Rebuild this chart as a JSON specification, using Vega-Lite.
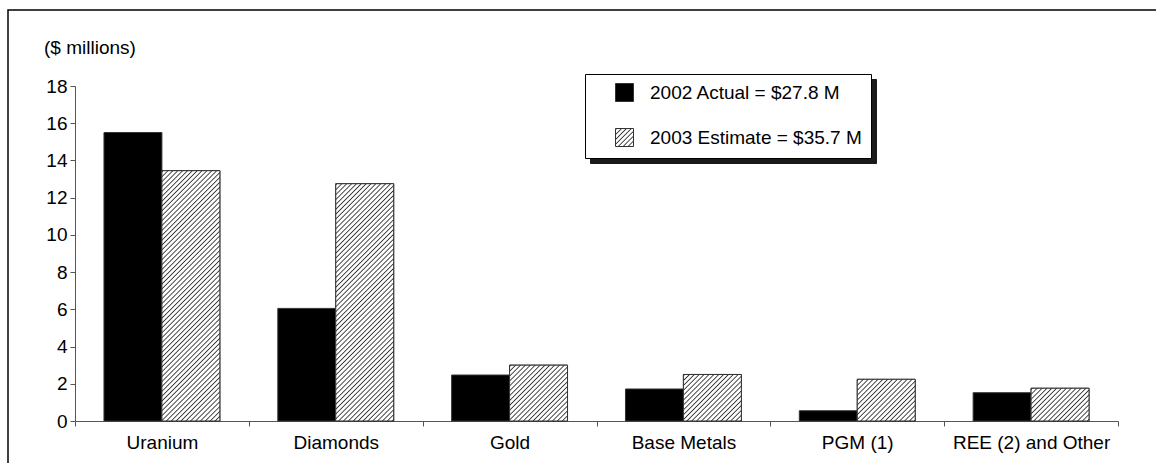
{
  "$schema": "https://vega.github.io/schema/vega-lite/v6.json",
  "width": 1148,
  "height": 453,
  "autosize": {"type": "none"},
  "padding": {"left": 8, "top": 10, "right": 0, "bottom": 0},
  "background": "white",
  "params": [
    {"name": "hatch", "value": [
      {"offset":0,"color":"#fff"},{"offset":0.004,"color":"#333"},{"offset":0.008,"color":"#fff"},
      {"offset":0.0156,"color":"#fff"},{"offset":0.0196,"color":"#333"},{"offset":0.0236,"color":"#fff"},
      {"offset":0.0313,"color":"#fff"},{"offset":0.0353,"color":"#333"},{"offset":0.0393,"color":"#fff"},
      {"offset":0.0469,"color":"#fff"},{"offset":0.0509,"color":"#333"},{"offset":0.0549,"color":"#fff"},
      {"offset":0.0625,"color":"#fff"},{"offset":0.0665,"color":"#333"},{"offset":0.0705,"color":"#fff"},
      {"offset":0.0781,"color":"#fff"},{"offset":0.0821,"color":"#333"},{"offset":0.0861,"color":"#fff"},
      {"offset":0.0938,"color":"#fff"},{"offset":0.0978,"color":"#333"},{"offset":0.1018,"color":"#fff"},
      {"offset":0.1094,"color":"#fff"},{"offset":0.1134,"color":"#333"},{"offset":0.1174,"color":"#fff"},
      {"offset":0.125,"color":"#fff"},{"offset":0.129,"color":"#333"},{"offset":0.133,"color":"#fff"},
      {"offset":0.1406,"color":"#fff"},{"offset":0.1446,"color":"#333"},{"offset":0.1486,"color":"#fff"},
      {"offset":0.1563,"color":"#fff"},{"offset":0.1603,"color":"#333"},{"offset":0.1643,"color":"#fff"},
      {"offset":0.1719,"color":"#fff"},{"offset":0.1759,"color":"#333"},{"offset":0.1799,"color":"#fff"},
      {"offset":0.1875,"color":"#fff"},{"offset":0.1915,"color":"#333"},{"offset":0.1955,"color":"#fff"},
      {"offset":0.2031,"color":"#fff"},{"offset":0.2071,"color":"#333"},{"offset":0.2111,"color":"#fff"},
      {"offset":0.2188,"color":"#fff"},{"offset":0.2228,"color":"#333"},{"offset":0.2268,"color":"#fff"},
      {"offset":0.2344,"color":"#fff"},{"offset":0.2384,"color":"#333"},{"offset":0.2424,"color":"#fff"},
      {"offset":0.25,"color":"#fff"},{"offset":0.254,"color":"#333"},{"offset":0.258,"color":"#fff"},
      {"offset":0.2656,"color":"#fff"},{"offset":0.2696,"color":"#333"},{"offset":0.2736,"color":"#fff"},
      {"offset":0.2813,"color":"#fff"},{"offset":0.2853,"color":"#333"},{"offset":0.2893,"color":"#fff"},
      {"offset":0.2969,"color":"#fff"},{"offset":0.3009,"color":"#333"},{"offset":0.3049,"color":"#fff"},
      {"offset":0.3125,"color":"#fff"},{"offset":0.3165,"color":"#333"},{"offset":0.3205,"color":"#fff"},
      {"offset":0.3281,"color":"#fff"},{"offset":0.3321,"color":"#333"},{"offset":0.3361,"color":"#fff"},
      {"offset":0.3438,"color":"#fff"},{"offset":0.3478,"color":"#333"},{"offset":0.3518,"color":"#fff"},
      {"offset":0.3594,"color":"#fff"},{"offset":0.3634,"color":"#333"},{"offset":0.3674,"color":"#fff"},
      {"offset":0.375,"color":"#fff"},{"offset":0.379,"color":"#333"},{"offset":0.383,"color":"#fff"},
      {"offset":0.3906,"color":"#fff"},{"offset":0.3946,"color":"#333"},{"offset":0.3986,"color":"#fff"},
      {"offset":0.4063,"color":"#fff"},{"offset":0.4103,"color":"#333"},{"offset":0.4143,"color":"#fff"},
      {"offset":0.4219,"color":"#fff"},{"offset":0.4259,"color":"#333"},{"offset":0.4299,"color":"#fff"},
      {"offset":0.4375,"color":"#fff"},{"offset":0.4415,"color":"#333"},{"offset":0.4455,"color":"#fff"},
      {"offset":0.4531,"color":"#fff"},{"offset":0.4571,"color":"#333"},{"offset":0.4611,"color":"#fff"},
      {"offset":0.4688,"color":"#fff"},{"offset":0.4728,"color":"#333"},{"offset":0.4768,"color":"#fff"},
      {"offset":0.4844,"color":"#fff"},{"offset":0.4884,"color":"#333"},{"offset":0.4924,"color":"#fff"},
      {"offset":0.5,"color":"#fff"},{"offset":0.504,"color":"#333"},{"offset":0.508,"color":"#fff"},
      {"offset":0.5156,"color":"#fff"},{"offset":0.5196,"color":"#333"},{"offset":0.5236,"color":"#fff"},
      {"offset":0.5313,"color":"#fff"},{"offset":0.5353,"color":"#333"},{"offset":0.5393,"color":"#fff"},
      {"offset":0.5469,"color":"#fff"},{"offset":0.5509,"color":"#333"},{"offset":0.5549,"color":"#fff"},
      {"offset":0.5625,"color":"#fff"},{"offset":0.5665,"color":"#333"},{"offset":0.5705,"color":"#fff"},
      {"offset":0.5781,"color":"#fff"},{"offset":0.5821,"color":"#333"},{"offset":0.5861,"color":"#fff"},
      {"offset":0.5938,"color":"#fff"},{"offset":0.5978,"color":"#333"},{"offset":0.6018,"color":"#fff"},
      {"offset":0.6094,"color":"#fff"},{"offset":0.6134,"color":"#333"},{"offset":0.6174,"color":"#fff"},
      {"offset":0.625,"color":"#fff"},{"offset":0.629,"color":"#333"},{"offset":0.633,"color":"#fff"},
      {"offset":0.6406,"color":"#fff"},{"offset":0.6446,"color":"#333"},{"offset":0.6486,"color":"#fff"},
      {"offset":0.6563,"color":"#fff"},{"offset":0.6603,"color":"#333"},{"offset":0.6643,"color":"#fff"},
      {"offset":0.6719,"color":"#fff"},{"offset":0.6759,"color":"#333"},{"offset":0.6799,"color":"#fff"},
      {"offset":0.6875,"color":"#fff"},{"offset":0.6915,"color":"#333"},{"offset":0.6955,"color":"#fff"},
      {"offset":0.7031,"color":"#fff"},{"offset":0.7071,"color":"#333"},{"offset":0.7111,"color":"#fff"},
      {"offset":0.7188,"color":"#fff"},{"offset":0.7228,"color":"#333"},{"offset":0.7268,"color":"#fff"},
      {"offset":0.7344,"color":"#fff"},{"offset":0.7384,"color":"#333"},{"offset":0.7424,"color":"#fff"},
      {"offset":0.75,"color":"#fff"},{"offset":0.754,"color":"#333"},{"offset":0.758,"color":"#fff"},
      {"offset":0.7656,"color":"#fff"},{"offset":0.7696,"color":"#333"},{"offset":0.7736,"color":"#fff"},
      {"offset":0.7813,"color":"#fff"},{"offset":0.7853,"color":"#333"},{"offset":0.7893,"color":"#fff"},
      {"offset":0.7969,"color":"#fff"},{"offset":0.8009,"color":"#333"},{"offset":0.8049,"color":"#fff"},
      {"offset":0.8125,"color":"#fff"},{"offset":0.8165,"color":"#333"},{"offset":0.8205,"color":"#fff"},
      {"offset":0.8281,"color":"#fff"},{"offset":0.8321,"color":"#333"},{"offset":0.8361,"color":"#fff"},
      {"offset":0.8438,"color":"#fff"},{"offset":0.8478,"color":"#333"},{"offset":0.8518,"color":"#fff"},
      {"offset":0.8594,"color":"#fff"},{"offset":0.8634,"color":"#333"},{"offset":0.8674,"color":"#fff"},
      {"offset":0.875,"color":"#fff"},{"offset":0.879,"color":"#333"},{"offset":0.883,"color":"#fff"},
      {"offset":0.8906,"color":"#fff"},{"offset":0.8946,"color":"#333"},{"offset":0.8986,"color":"#fff"},
      {"offset":0.9063,"color":"#fff"},{"offset":0.9103,"color":"#333"},{"offset":0.9143,"color":"#fff"},
      {"offset":0.9219,"color":"#fff"},{"offset":0.9259,"color":"#333"},{"offset":0.9299,"color":"#fff"},
      {"offset":0.9375,"color":"#fff"},{"offset":0.9415,"color":"#333"},{"offset":0.9455,"color":"#fff"},
      {"offset":0.9531,"color":"#fff"},{"offset":0.9571,"color":"#333"},{"offset":0.9611,"color":"#fff"},
      {"offset":0.9688,"color":"#fff"},{"offset":0.9728,"color":"#333"},{"offset":0.9768,"color":"#fff"},
      {"offset":0.9844,"color":"#fff"},{"offset":0.9884,"color":"#333"},{"offset":0.9924,"color":"#fff"}
    ]}
  ],
  "data": {"values": [
    {"category": "Uranium", "series": "2002 Actual = $27.8 M", "value": 15.5},
    {"category": "Uranium", "series": "2003 Estimate = $35.7 M", "value": 13.45},
    {"category": "Diamonds", "series": "2002 Actual = $27.8 M", "value": 6.05},
    {"category": "Diamonds", "series": "2003 Estimate = $35.7 M", "value": 12.75},
    {"category": "Gold", "series": "2002 Actual = $27.8 M", "value": 2.47},
    {"category": "Gold", "series": "2003 Estimate = $35.7 M", "value": 3.0},
    {"category": "Base Metals", "series": "2002 Actual = $27.8 M", "value": 1.72},
    {"category": "Base Metals", "series": "2003 Estimate = $35.7 M", "value": 2.5},
    {"category": "PGM (1)", "series": "2002 Actual = $27.8 M", "value": 0.55},
    {"category": "PGM (1)", "series": "2003 Estimate = $35.7 M", "value": 2.24},
    {"category": "REE (2) and Other", "series": "2002 Actual = $27.8 M", "value": 1.52},
    {"category": "REE (2) and Other", "series": "2003 Estimate = $35.7 M", "value": 1.76}
  ]},
  "encoding": {
    "x": {
      "field": "category", "type": "nominal", "sort": null,
      "scale": {"range": [67, 1110], "paddingInner": 0, "paddingOuter": 0},
      "axis": {
        "orient": "bottom", "offset": -42, "title": null, "tickBand": "extent",
        "labelAngle": 0, "labelFontSize": 19, "labelColor": "black", "labelPadding": 7,
        "domainColor": "#555", "tickColor": "#555", "tickSize": 5
      }
    },
    "xOffset": {
      "field": "series", "type": "nominal",
      "scale": {"paddingInner": 0, "paddingOuter": 0.5}
    },
    "y": {
      "field": "value", "type": "quantitative",
      "scale": {"domain": [0, 18], "range": [411, 76], "nice": false},
      "axis": {
        "orient": "left", "offset": -67, "values": [0, 2, 4, 6, 8, 10, 12, 14, 16, 18],
        "grid": false, "labelFontSize": 19, "labelColor": "black", "labelPadding": 3,
        "domainColor": "#555", "tickColor": "#555", "tickSize": 5,
        "title": "($ millions)", "titleAngle": 0, "titleAlign": "left", "titleBaseline": "middle",
        "titleX": -31.5, "titleY": 37, "titleFontSize": 19, "titleFontWeight": "normal", "titleColor": "black"
      }
    }
  },
  "layer": [
    {
      "mark": {"type": "bar", "opacity": 0},
      "encoding": {
        "color": {
          "field": "series", "type": "nominal",
          "scale": {"domain": ["s1", "s2"], "range": ["#1a1a1a", "#1a1a1a"]},
          "legend": {
            "orient": "none", "legendX": 582, "legendY": 69, "title": null, "direction": "vertical",
            "padding": 9, "strokeColor": "#1a1a1a", "fillColor": "#1a1a1a",
            "symbolType": "square", "symbolSize": 324, "symbolOpacity": 0, "symbolOffset": 232,
            "labelOffset": 16, "rowPadding": 26, "labelFontSize": 19, "labelExpr": "''"
          }
        }
      }
    },
    {
      "mark": {"type": "bar", "stroke": "#333", "strokeWidth": 1},
      "encoding": {
        "fill": {
          "field": "series", "type": "nominal",
          "scale": {"range": ["black", {"expr": "{gradient: 'linear', x1: 0, y1: 0, x2: 8.667, y2: 8.667, stops: hatch}"}]},
          "legend": {
            "orient": "none", "legendX": 577, "legendY": 64, "title": null, "direction": "vertical",
            "padding": 9, "strokeColor": "black", "fillColor": "white",
            "symbolType": "square", "symbolSize": 324, "symbolOffset": 21, "labelOffset": 16,
            "symbolStrokeColor": "#333", "symbolStrokeWidth": 1,
            "rowPadding": 22, "labelFontSize": 19, "labelColor": "black", "labelLimit": 400
          }
        }
      }
    },
    {
      "transform": [{"filter": "datum.series === '2003 Estimate = $35.7 M'"}],
      "mark": {
        "type": "bar", "stroke": "#333", "strokeWidth": 1,
        "fill": {"expr": "{gradient: 'linear', x1: 0, y1: 0, x2: 312*58/(3364+pow(datum.value*18.611,2)), y2: 312*datum.value*18.611/(3364+pow(datum.value*18.611,2)), stops: hatch}"}
      }
    }
  ],
  "config": {
    "font": "Liberation Sans",
    "view": {"stroke": "black", "strokeWidth": 1.5, "strokeDash": [1148, 1601, 453]},
    "axis": {"grid": false}
  }
}
